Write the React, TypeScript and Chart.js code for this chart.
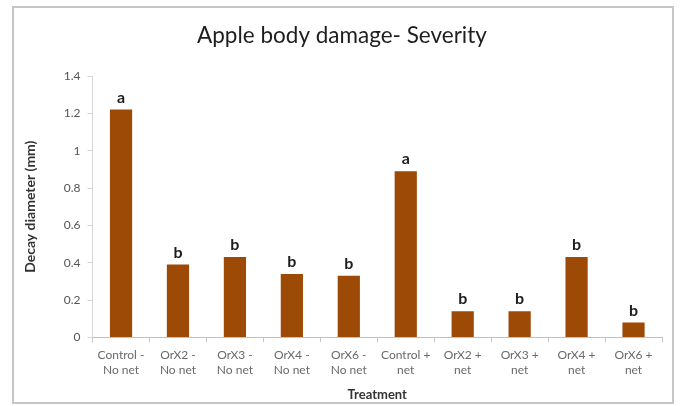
import React, { useEffect, useRef } from "react";
import { Chart, registerables } from "chart.js";

Chart.register(...registerables);

const categories: string[][] = [
  ["Control -", "No net"],
  ["OrX2 -", "No net"],
  ["OrX3 -", "No net"],
  ["OrX4 -", "No net"],
  ["OrX6 -", "No net"],
  ["Control +", "net"],
  ["OrX2 +", "net"],
  ["OrX3 +", "net"],
  ["OrX4 +", "net"],
  ["OrX6 +", "net"],
];
const severity: number[] = [1.22, 0.39, 0.43, 0.34, 0.33, 0.89, 0.14, 0.14, 0.43, 0.08];
const letters: string[] = ["a", "b", "b", "b", "b", "a", "b", "b", "b", "b"];
const yTicks: number[] = [0, 0.2, 0.4, 0.6, 0.8, 1, 1.2, 1.4];

const FONT = "Lato, 'Open Sans', sans-serif";

const frame = {
  id: "frame",
  beforeDraw(chart: any) {
    const ctx = chart.ctx;
    ctx.save();
    ctx.fillStyle = "#ffffff";
    ctx.fillRect(0, 0, chart.width, chart.height);
    ctx.strokeStyle = "#c6c6c6";
    ctx.lineWidth = 2;
    ctx.strokeRect(13, 7, 660, 396);
    ctx.restore();
  },
};

const letterLabels = {
  id: "letterLabels",
  afterDatasetsDraw(chart: any) {
    const ctx = chart.ctx;
    const meta = chart.getDatasetMeta(0);
    ctx.save();
    ctx.font = `bold 16px ${FONT}`;
    ctx.fillStyle = "#1e1e1e";
    ctx.textAlign = "center";
    ctx.textBaseline = "bottom";
    meta.data.forEach((bar: any, i: number) => {
      ctx.fillText(letters[i], bar.x, bar.y - 4);
    });
    ctx.restore();
  },
};

export default function App() {
  const ref = useRef<HTMLCanvasElement>(null);
  useEffect(() => {
    if (!ref.current) return;
    const chart = new Chart(ref.current, {
      type: "bar",
      data: {
        labels: categories,
        datasets: [
          {
            data: severity,
            backgroundColor: "#9d4a07",
            borderWidth: 0,
            barPercentage: 0.78,
            categoryPercentage: 0.5,
          },
        ],
      },
      options: {
        animation: false,
        responsive: false,
        layout: { padding: { top: 18, left: 22, right: 18, bottom: 3 } },
        plugins: {
          legend: { display: false },
          tooltip: { enabled: false },
          title: {
            display: true,
            text: "Apple body damage- Severity",
            color: "#1e1e1e",
            font: { family: FONT, size: 22.5, weight: "normal" },
            padding: { top: 4, bottom: 27 },
          },
        },
        scales: {
          x: {
            grid: {
              display: true,
              offset: true,
              drawOnChartArea: false,
              drawTicks: true,
              tickLength: 5,
              color: "#c8c8c8",
            },
            border: { color: "#c0c0c0" },
            ticks: {
              color: "#6a6a6a",
              font: { family: FONT, size: 12, lineHeight: 1.25 },
              maxRotation: 0,
              autoSkip: false,
              padding: 5,
            },
            title: {
              display: true,
              text: "Treatment",
              color: "#333333",
              font: { family: FONT, size: 13, weight: "bold" },
              padding: { top: 5, bottom: 0 },
            },
          },
          y: {
            min: 0,
            max: 1.4,
            afterBuildTicks: (axis: any) => {
              axis.ticks = yTicks.map((v) => ({ value: v }));
            },
            grid: {
              display: true,
              drawOnChartArea: false,
              drawTicks: true,
              tickLength: 5,
              color: "#d6d6d6",
            },
            border: { color: "#d6d6d6" },
            ticks: {
              color: "#555555",
              font: { family: FONT, size: 12 },
              padding: 7,
              callback: (v: any) => String(Math.round(Number(v) * 10) / 10),
            },
            title: {
              display: true,
              text: "Decay diameter (mm)",
              color: "#333333",
              font: { family: FONT, size: 14, weight: "bold" },
              padding: { top: 0, bottom: 18 },
            },
          },
        },
      },
      plugins: [frame, letterLabels],
    });
    return () => chart.destroy();
  }, []);
  return (
    <div style={{ position: "fixed", left: 0, top: 0, width: 680, height: 406 }}>
      <canvas ref={ref} width={680} height={406} style={{ width: 680, height: 406 }} />
    </div>
  );
}
